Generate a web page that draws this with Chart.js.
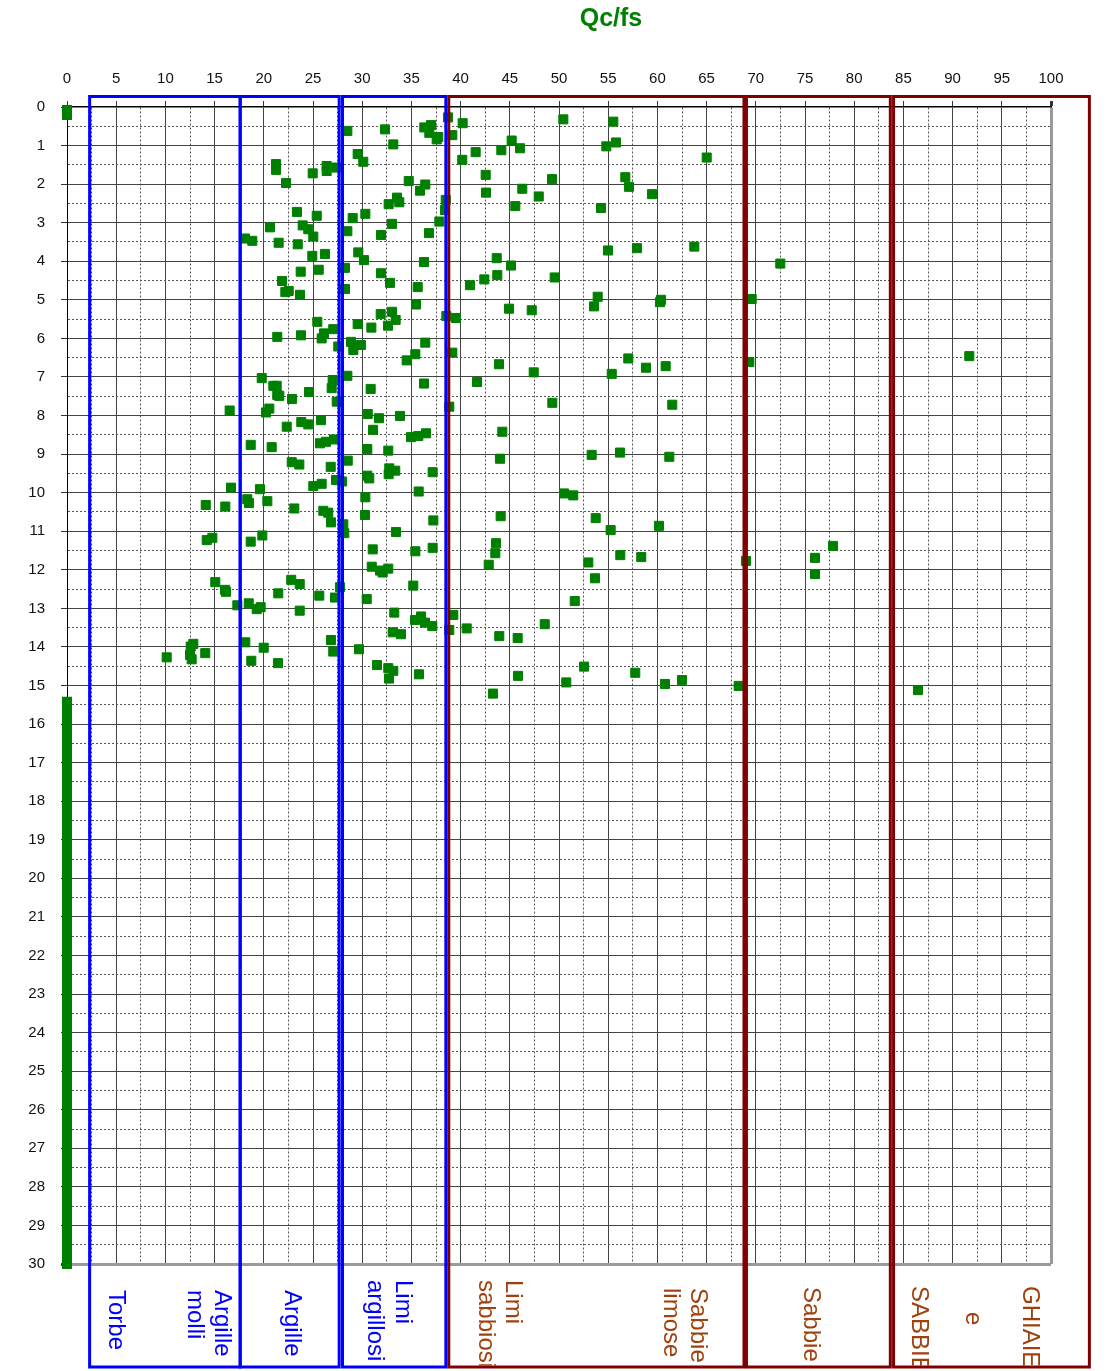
<!DOCTYPE html>
<html><head><meta charset="utf-8">
<script src="https://cdn.jsdelivr.net/npm/chart.js@4.4.1/dist/chart.umd.min.js"></script>
<style>html,body{margin:0;padding:0;background:#fff;}#wrap{width:1113px;height:1371px;position:relative;}</style>
</head><body><div id="wrap"><canvas id="c" width="1113" height="1371"></canvas></div>
<script>
// ---- DATA ----
const titleText = "Qc/fs";
const qcfs = [
28.49,29.54,21.24,21.24,22.26,24.97,26.39,26.39,27.34,23.37,25.38,29.03,20.63,23.95,24.52,25.03,28.49,18.09,18.83,21.51,23.45,24.93,26.22,29.60,23.75,25.58,28.25,21.85,22.19,22.53,23.68,28.25,25.44,29.54,21.37,23.78,25.88,26.12,27.06,27.57,28.86,29.10,28.49,19.79,20.97,21.31,24.59,27.00,26.90,
32.32,33.16,36.31,36.99,36.82,37.57,37.73,38.72,39.16,40.21,50.44,55.52,45.19,46.04,44.14,41.53,40.17,54.81,55.79,30.11,42.55,42.58,46.27,47.94,49.29,56.74,57.11,54.27,45.56,34.73,36.41,35.87,33.54,32.69,33.77,38.49,38.41,37.84,36.79,33.03,31.91,30.32,30.18,36.28,31.91,32.83,35.64,35.47,31.88,33.03,33.40,32.62,30.93,36.41,35.40,34.52,36.28,30.86,38.55,39.53,39.16,43.90,47.43,41.67,43.67,45.12,43.73,42.41,40.96,49.56,54.98,57.93,53.93,53.56,44.92,47.23,57.04,58.84,55.36,59.45,29.88,
65.01,63.75,72.49,69.58,60.26,60.37,69.34,91.70,60.84,
21.37,21.58,22.87,16.53,20.22,20.56,22.33,23.81,24.52,18.67,20.80,22.84,23.61,16.67,19.61,18.32,18.50,20.36,14.10,16.09,23.10,14.20,14.77,18.67,19.85,15.07,16.06,16.16,21.47,22.79,23.65,17.31,18.47,19.28,19.68,23.65,18.12,19.99,12.84,12.57,12.50,12.67,10.13,14.05,18.73,21.44,
27.41,38.85,30.56,31.71,33.84,25.81,31.10,34.96,35.70,36.48,25.71,26.32,27.13,30.52,32.65,28.53,26.80,32.75,33.36,32.69,30.52,30.72,27.34,27.95,37.16,25.03,25.88,35.74,30.32,30.28,26.05,26.55,26.83,28.08,28.18,37.23,33.43,31.07,35.40,37.16,30.97,31.81,32.08,32.65,27.74,27.24,35.19,25.64,30.46,33.26,35.37,35.98,36.38,37.12,39.26,38.85,40.62,33.10,33.94,26.83,27.06,29.67,31.50,32.65,33.16,32.72,35.77,
49.32,61.51,44.24,44.00,53.32,56.20,61.21,50.51,51.45,44.07,53.73,55.25,60.16,43.60,43.53,42.86,52.98,56.23,58.36,53.66,69.00,51.60,48.55,43.93,45.80,52.54,57.75,45.83,50.74,60.77,62.50,68.26,43.29,
76.02,76.02,77.85,86.48
];
const depth = [
0.62,1.22,1.48,1.63,1.97,1.72,1.53,1.66,1.57,2.72,2.82,2.88,3.12,3.07,3.17,3.36,3.22,3.41,3.47,3.52,3.56,3.86,3.81,3.77,4.27,4.22,4.17,4.51,4.80,4.77,4.87,4.72,5.57,5.63,5.96,5.92,6.00,5.87,5.76,6.21,6.09,6.30,6.97,7.03,7.23,7.23,7.39,7.08,7.29,
0.58,0.97,0.53,0.47,0.67,0.84,0.78,0.27,0.73,0.42,0.32,0.38,0.87,1.07,1.12,1.17,1.37,1.02,0.92,1.42,1.76,2.22,2.12,2.32,1.87,1.82,2.07,2.62,2.57,1.92,2.01,2.17,2.35,2.52,2.47,2.41,2.67,2.97,3.27,3.03,3.32,2.77,3.97,4.02,4.31,4.56,4.67,5.12,5.37,5.31,5.52,5.67,5.72,6.11,6.41,6.57,7.17,7.31,5.42,5.47,6.37,6.67,6.88,7.13,3.92,4.11,4.36,4.47,4.62,4.42,3.72,3.66,4.92,5.17,5.23,5.27,6.52,6.76,6.92,2.26,6.17,
1.31,3.62,4.06,4.98,5.06,5.00,6.61,6.46,6.72,
7.47,7.49,7.57,7.87,7.92,7.82,8.29,8.17,8.23,8.76,8.82,9.21,9.27,9.87,9.91,10.17,10.27,10.22,10.32,10.36,10.41,11.23,11.17,11.27,11.11,12.32,12.52,12.57,12.61,12.26,12.37,12.92,12.87,13.02,12.97,13.06,13.88,14.02,13.92,13.99,14.21,14.32,14.27,14.16,14.36,14.42,
7.64,7.77,7.96,8.07,8.01,8.12,8.37,8.56,8.53,8.46,8.72,8.68,8.62,8.87,8.91,9.17,9.33,9.37,9.43,9.52,9.56,9.63,9.67,9.71,9.47,9.83,9.77,9.97,10.12,10.58,10.47,10.52,10.77,10.82,11.05,10.72,11.02,11.47,11.52,11.43,11.92,12.02,12.07,11.97,12.45,12.72,12.41,12.67,12.76,13.11,13.30,13.21,13.37,13.46,13.17,13.56,13.52,13.62,13.67,13.82,14.12,14.06,14.47,14.55,14.62,14.82,14.71,
7.67,7.72,8.42,9.12,9.02,8.96,9.07,10.02,10.07,10.61,10.66,10.97,10.86,11.31,11.57,11.87,11.81,11.62,11.67,12.22,11.77,12.81,13.41,13.72,13.77,14.51,14.67,14.75,14.92,14.96,14.86,15.01,15.21,
11.69,12.11,11.38,15.12
];
// readings at Qc/fs = 0 (continuous runs of markers)
const zeroRunTop = [0.08, 0.21];
const zeroRunBottom = [15.42, 30];
// axis ranges / ticks
const xRange = [0, 100], xStep = 2.5, xLabelEvery = 5;
const yRange = [0, 30], yStep = 0.5, yLabelEvery = 1;
// soil-class zones (Qc/fs bounds) and labels
const zoneFrom = [2.3, 17.6, 28.0, 38.8, 69.05, 84.0];
const zoneTo   = [17.6, 27.66, 38.5, 68.8, 83.67, 103.9];
const zoneGroup = ["fine","fine","fine","coarse","coarse","coarse"];
const labelLines = [
  ["Torbe"], ["Argille","molli"], ["Argille"], ["Limi","argillosi"],
  ["Limi","sabbiosi"], ["Sabbie","limose"], ["Sabbie"], ["GHIAIE","e","SABBIE"]
];

// ---- STYLE / LAYOUT ----
const FONT = '"Liberation Sans", Arial, Helvetica, sans-serif';
const GREEN = '#008000';
const isMult = (v, m) => Math.abs(v / m - Math.round(v / m)) < 1e-6;
// label placement: [baseline x px, start y px] per line
const labelPos = [
  [[108.7,1290]], [[215,1290],[188.4,1290]], [[284.8,1290]], [[395.5,1280],[368,1280]],
  [[506,1280],[479.4,1280]], [[691,1288],[663.7,1288]], [[804.4,1287]], [[1023,1286],[966,1312],[912.3,1286]]
];
const labelColor = ['#0000FF','#0000FF','#0000FF','#0000FF','#A0410D','#A0410D','#A0410D','#A0410D'];

const zonesPlugin = {
  id: 'zones',
  afterDatasetsDraw(chart) {
    const ctx = chart.ctx, xs = chart.scales.x, ca = chart.chartArea;
    const top = ca.top - 10.5, bottom = chart.height - 4;
    ctx.save();
    ctx.beginPath(); ctx.rect(0, ca.bottom, chart.width, bottom - 1.5 - ca.bottom); ctx.clip();
    ctx.font = '24px ' + FONT;
    ctx.textAlign = 'left'; ctx.textBaseline = 'alphabetic';
    labelLines.forEach((lines, i) => {
      ctx.fillStyle = labelColor[i];
      lines.forEach((t, j) => {
        const [bx, sy] = labelPos[i][j];
        ctx.save(); ctx.translate(bx, sy); ctx.rotate(Math.PI / 2); ctx.fillText(t, 0, 0); ctx.restore();
      });
    });
    ctx.restore();
    ctx.save();
    ctx.lineWidth = 3;
    zoneFrom.forEach((f, i) => {
      const x1 = xs.getPixelForValue(f), x2 = xs.getPixelForValue(zoneTo[i]);
      ctx.strokeStyle = zoneGroup[i] === 'fine' ? '#0000FF' : '#800000';
      ctx.strokeRect(x1, top, x2 - x1, bottom - top);
    });
    ctx.restore();
    ctx.save();
    ctx.font = 'bold 25px ' + FONT;
    ctx.fillStyle = GREEN; ctx.textAlign = 'center'; ctx.textBaseline = 'middle';
    ctx.fillText(titleText, 611, 19);
    ctx.restore();
  }
};

const gridColor = (v, max, major) => {
  if (v === 0) return 'rgba(0,0,0,0)';
  if (v === max) return '#9a9a9a';
  return major ? '#444444' : '#555555';
};

new Chart(document.getElementById('c'), {
  type: 'scatter',
  data: {
    datasets: [
      {
        data: qcfs.map((x, i) => ({ x: x, y: depth[i] })),
        pointStyle: 'rect', pointRadius: 6.4, pointBorderWidth: 1,
        backgroundColor: GREEN, borderColor: GREEN, pointHoverRadius: 6.4
      },
      {
        type: 'line', data: zeroRunTop.map(d => ({ x: 0, y: d })),
        borderColor: GREEN, borderWidth: 10, borderCapStyle: 'square', pointRadius: 0, clip: false
      },
      {
        type: 'line', data: zeroRunBottom.map(d => ({ x: 0, y: d })),
        borderColor: GREEN, borderWidth: 10, borderCapStyle: 'square', pointRadius: 0, clip: false
      }
    ]
  },
  options: {
    responsive: false, animation: false, devicePixelRatio: 1,
    layout: { padding: { left: 0, top: 0, right: 62, bottom: 107 } },
    plugins: { legend: { display: false }, tooltip: { enabled: false }, title: { display: false } },
    scales: {
      x: {
        type: 'linear', position: 'top', min: xRange[0], max: xRange[1],
        afterFit: s => { s.height = 107; },
        ticks: {
          stepSize: xStep, autoSkip: false, maxRotation: 0, minRotation: 0, padding: 13,
          color: '#111', font: { family: FONT, size: 15 },
          callback: v => isMult(v, xLabelEvery) ? String(v) : ''
        },
        grid: {
          color: c => gridColor(c.tick.value, xRange[1], isMult(c.tick.value, xLabelEvery)),
          lineWidth: c => c.tick.value === xRange[1] ? 3 : 1,
          tickColor: c => isMult(c.tick.value, xLabelEvery) ? '#333' : 'rgba(0,0,0,0)',
          tickLength: 6, drawTicks: true
        },
        border: {
          display: true, color: '#000', width: 1.5,
          dash: c => (c.type === 'tick' && c.tick && !isMult(c.tick.value, xLabelEvery)) ? [2, 2] : []
        }
      },
      y: {
        type: 'linear', position: 'left', reverse: true, min: yRange[0], max: yRange[1],
        afterFit: s => { s.width = 67; },
        ticks: {
          stepSize: yStep, autoSkip: false, padding: 16,
          color: '#111', font: { family: FONT, size: 15 },
          callback: v => isMult(v, yLabelEvery) ? String(v) : ''
        },
        grid: {
          color: c => gridColor(c.tick.value, yRange[1], isMult(c.tick.value, yLabelEvery)),
          lineWidth: c => c.tick.value === yRange[1] ? 3 : 1,
          tickColor: c => isMult(c.tick.value, yLabelEvery) ? '#333' : 'rgba(0,0,0,0)',
          tickLength: 6, drawTicks: true
        },
        border: {
          display: true, color: '#000', width: 1,
          dash: c => (c.type === 'tick' && c.tick && !isMult(c.tick.value, yLabelEvery)) ? [2, 2] : []
        }
      }
    }
  },
  plugins: [zonesPlugin]
});
</script>
</body></html>
